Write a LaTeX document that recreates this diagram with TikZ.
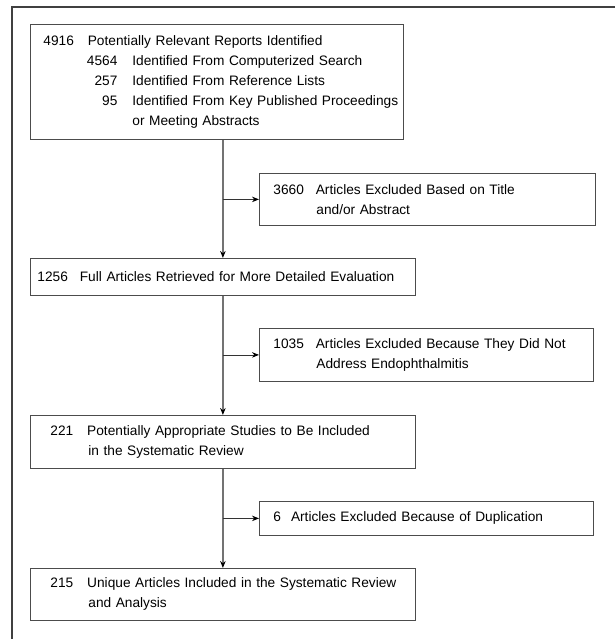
\documentclass[tikz,border=0pt]{standalone}
\usepackage{fontspec}
\setmainfont{Liberation Sans}
\usetikzlibrary{arrows.meta}

\begin{document}
\begin{tikzpicture}[x=1pt, y=1pt,
		spine/.style = {draw=black!55, line width=1.4pt},
		branch/.style = {draw=black!80, line width=0.8pt}]
		\useasboundingbox (0,0) rectangle (615,-639);
		\draw[line width=1.6pt, black!75] (615,-7) -- (12,-7) -- (12,-639);
		\begin{scope}[every node/.style = {draw=black!70, line width=0.8pt, anchor=north west, align=left, inner xsep=0pt, inner ysep=0pt, text=black, font=\fontsize{13.7}{20}\selectfont}]
			\node[text width=373, minimum height=115] (R) at (30,-24) {\hspace*{13pt}4916\hspace{14pt}Potentially Relevant Reports Identified\\
				\hspace*{56pt}\makebox[31pt][r]{4564}\hspace{15pt}Identified From Computerized Search\\
				\hspace*{56pt}\makebox[31pt][r]{257}\hspace{15pt}Identified From Reference Lists\\
				\hspace*{56pt}\makebox[31pt][r]{95}\hspace{15pt}Identified From Key Published Proceedings\\
				\hspace*{102pt}or Meeting Abstracts};
			\node[text width=336, minimum height=52] (X1) at (259,-173) {\hspace*{14pt}3660\hspace{12pt}Articles Excluded Based on Title\\
				\hspace*{57pt}and/or Abstract};
			\node[text width=385, minimum height=37] (F) at (30,-258) {\hspace*{7pt}1256\hspace{12pt}Full Articles Retrieved for More Detailed Evaluation};
			\node[text width=334, minimum height=53] (X2) at (259,-328) {\hspace*{14pt}1035\hspace{12pt}Articles Excluded Because They Did Not\\
				\hspace*{57pt}Address Endophthalmitis};
			\node[text width=385, minimum height=53] (P) at (30,-415) {\hspace*{20pt}221\hspace{14pt}Potentially Appropriate Studies to Be Included\\
				\hspace*{58pt}in the Systematic Review};
			\node[text width=334, minimum height=34] (X3) at (259,-501) {\hspace*{14pt}6\hspace{10pt}Articles Excluded Because of Duplication};
			\node[text width=385, minimum height=52] (U) at (30,-568) {\hspace*{20pt}215\hspace{14pt}Unique Articles Included in the Systematic Review\\
				\hspace*{58pt}and Analysis};
		\end{scope}
		\begin{scope}[>={Stealth[black, length=7pt, width=5.5pt]}]
			\path[->] (F.north |- R.south) edge[spine] (F.north);
			\path[->] (F.south) edge[spine] (P.north);
			\path[->] (P.south) edge[spine] (U.north);
			\path[->] (F.north |- X1.west) edge[branch] (X1.west);
			\path[->] (F.north |- X2.west) edge[branch] (X2.west);
			\path[->] (F.north |- X3.west) edge[branch] (X3.west);
		\end{scope}
	\end{tikzpicture}
\end{document}
